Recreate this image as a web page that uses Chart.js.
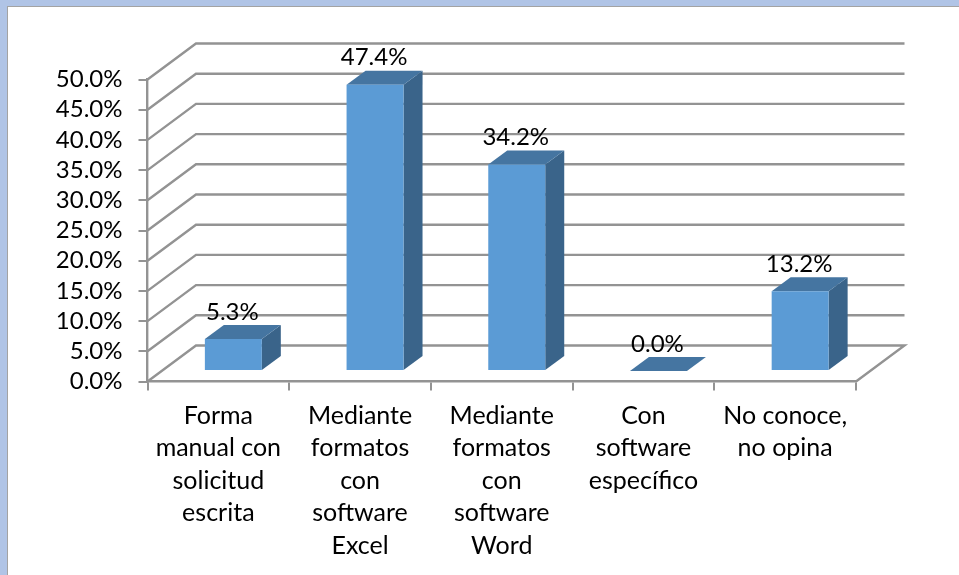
<!DOCTYPE html>
<html>
<head>
<meta charset="utf-8">
<script src="https://cdn.jsdelivr.net/npm/chart.js@4"></script>
<style>
    html, body { margin: 0; width: 959px; height: 575px; overflow: hidden; background: #b0c4e6; }
    #panel { position: absolute; left: 7px; top: 6px; right: 0; bottom: 0; background: #fff; border-left: 1px solid #a3a3a3; border-top: 1px solid #a3a3a3; }
    canvas { position: absolute; left: 0; top: 0; }
</style>
</head>
<body>
<div id="panel"></div>
<canvas id="chart" width="959" height="575"></canvas>
<script>
const categories = [
    ['Forma', 'manual con', 'solicitud', 'escrita'],
    ['Mediante', 'formatos', 'con', 'software', 'Excel'],
    ['Mediante', 'formatos', 'con', 'software', 'Word'],
    ['Con', 'software', 'específico'],
    ['No conoce,', 'no opina']
];
const values = [5.3, 47.4, 34.2, 0.0, 13.2];
const axisMax = 50;
const axisStep = 5;

const FONT = 'Lato, Calibri, sans-serif';
const GRID = '#939393';
// depth of the back wall, and of the bars, in pixels
const WALL_DX = 48.5, WALL_DY = 36;
const BAR_SHIFT_X = 15, BAR_SHIFT_Y = 10.5;
const BAR_DX = 19, BAR_DY = 14;

// walls and floor behind the bars
const wallPlugin = {
    id: 'wall',
    beforeDatasetsDraw(chart) {
        const { ctx, scales: { x, y } } = chart;
        ctx.save();
        ctx.strokeStyle = GRID;
        ctx.lineWidth = 2.4;
        for (let v = 0; v <= axisMax; v += axisStep) {
            const py = y.getPixelForValue(v);
            ctx.beginPath();
            ctx.moveTo(x.left, py);
            ctx.lineTo(x.left + WALL_DX, py - WALL_DY);
            ctx.lineTo(x.right + WALL_DX, py - WALL_DY);
            if (v === 0) ctx.lineTo(x.right, py);
            ctx.stroke();
        }
        ctx.restore();
    }
};

// shifts the bars into the depth and adds the side and top faces
const boxPlugin = {
    id: 'box',
    beforeDatasetDraw(chart) {
        const { ctx } = chart;
        ctx.save();
        ctx.translate(BAR_SHIFT_X, -BAR_SHIFT_Y);
        chart.getDatasetMeta(0).data.forEach(bar => {
            const left = bar.x - bar.width / 2, right = bar.x + bar.width / 2;
            if (bar.base - bar.y > 0.5) {
                ctx.fillStyle = '#3a648a';
                ctx.beginPath();
                ctx.moveTo(right, bar.y);
                ctx.lineTo(right + BAR_DX, bar.y - BAR_DY);
                ctx.lineTo(right + BAR_DX, bar.base - BAR_DY);
                ctx.lineTo(right, bar.base);
                ctx.closePath();
                ctx.fill();
            }
            ctx.fillStyle = '#4575a1';
            ctx.beginPath();
            ctx.moveTo(left, bar.y);
            ctx.lineTo(left + BAR_DX, bar.y - BAR_DY);
            ctx.lineTo(right + BAR_DX, bar.y - BAR_DY);
            ctx.lineTo(right, bar.y);
            ctx.closePath();
            ctx.fill();
        });
    },
    afterDatasetDraw(chart) {
        chart.ctx.restore();
    },
    afterDatasetsDraw(chart) {
        const { ctx } = chart;
        ctx.save();
        ctx.font = '24px ' + FONT;
        ctx.fillStyle = '#000';
        ctx.textAlign = 'center';
        ctx.textBaseline = 'middle';
        chart.getDatasetMeta(0).data.forEach((bar, i) => {
            ctx.fillText(values[i].toFixed(1) + '%', bar.x + BAR_SHIFT_X - 1, bar.y - BAR_SHIFT_Y - BAR_DY - 13);
        });
        ctx.restore();
    }
};

new Chart(document.getElementById('chart'), {
    type: 'bar',
    data: {
        labels: categories,
        datasets: [{
            data: values,
            backgroundColor: '#5b9bd5',
            barPercentage: 0.402,
            categoryPercentage: 1
        }]
    },
    options: {
        responsive: false,
        animation: false,
        layout: { padding: { left: 0, right: 103, top: 79.5, bottom: 0 } },
        plugins: { legend: { display: false }, tooltip: { enabled: false } },
        scales: {
            x: {
                afterFit: s => { s.height = 193.5; },
                grid: { drawOnChartArea: false, tickLength: 9, tickColor: GRID, lineWidth: 2 },
                border: { color: GRID, width: 2.4 },
                ticks: {
                    color: '#000',
                    font: { family: FONT, size: 25, lineHeight: 1.3 },
                    maxRotation: 0,
                    autoSkip: false,
                    padding: 9
                }
            },
            y: {
                min: 0,
                max: axisMax,
                afterFit: s => { s.width = 147.5; },
                grid: { drawOnChartArea: false, tickLength: 9, tickColor: GRID, lineWidth: 2 },
                border: { color: GRID, width: 2.4 },
                ticks: {
                    stepSize: axisStep,
                    autoSkip: false,
                    color: '#000',
                    font: { family: FONT, size: 24 },
                    padding: 16,
                    callback: v => v.toFixed(1) + '%'
                }
            }
        }
    },
    plugins: [wallPlugin, boxPlugin]
});
</script>
</body>
</html>
